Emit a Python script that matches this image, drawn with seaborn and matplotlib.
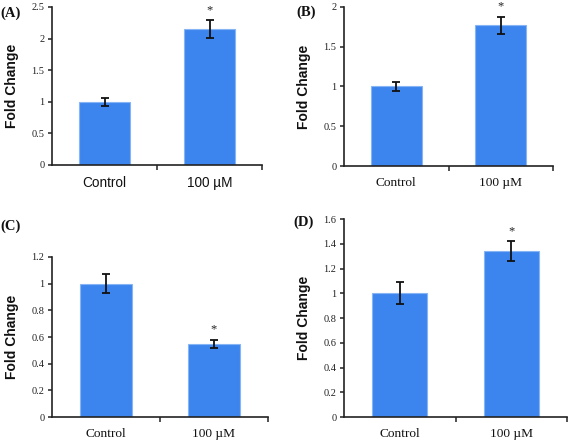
import matplotlib
matplotlib.use("Agg")
import matplotlib.pyplot as plt
import seaborn as sns
import pandas as pd
from matplotlib.ticker import FuncFormatter, FixedLocator

categories = ["Control", "100 \u00b5M"]
panel_labels = ["(A)", "(B)", "(C)", "(D)"]
values_a = [1.00, 2.15]
errors_a = [0.06, 0.14]
values_b = [1.00, 1.77]
errors_b = [0.06, 0.11]
values_c = [1.00, 0.55]
errors_c = [0.07, 0.03]
values_d = [1.00, 1.34]
errors_d = [0.09, 0.08]
yticks_a = [0, 0.5, 1, 1.5, 2, 2.5]
yticks_b = [0, 0.5, 1, 1.5, 2]
yticks_c = [0, 0.2, 0.4, 0.6, 0.8, 1, 1.2]
yticks_d = [0, 0.2, 0.4, 0.6, 0.8, 1, 1.2, 1.4, 1.6]
significant = [False, True]

sns.set_theme(style="ticks")
plt.rcParams["font.family"] = ["Liberation Serif", "DejaVu Serif"]

W, H = 568, 440
fig = plt.figure(figsize=(W / 100, H / 100), dpi=100, facecolor="white")

BAR = "#3d85ee"
EDGE = "#86b5f5"
SERIF = ["Liberation Serif", "DejaVu Serif"]
SANS = ["Liberation Sans", "DejaVu Sans"]

panels = [
    # (values, errors, yticks, box px (l, r, top, bottom), xtick family, label pos)
    (values_a, errors_a, yticks_a, (52, 262, 7, 165), SANS, (11, 13)),
    (values_b, errors_b, yticks_b, (344, 553, 7, 166), SERIF, (306, 12)),
    (values_c, errors_c, yticks_c, (52, 268, 257, 417), SERIF, (11, 226)),
    (values_d, errors_d, yticks_d, (344, 567, 219, 417), SERIF, (304, 222)),
]

for i, (vals, errs, yt, box, xfam, lpos) in enumerate(panels):
    l, r, t, b = box
    ax = fig.add_axes([l / W, 1 - b / H, (r - l) / W, (b - t) / H])
    df = pd.DataFrame({"cond": categories, "fc": vals})
    sns.barplot(data=df, x="cond", y="fc", ax=ax, color=BAR, saturation=1,
                width=0.49, edgecolor=EDGE, linewidth=0.8)
    ax.errorbar(x=list(range(len(categories))), y=vals, yerr=errs, fmt="none",
                ecolor="#111111", elinewidth=1.3, capsize=3.2, capthick=1.3, zorder=5)
    for k, (v, e, s) in enumerate(zip(vals, errs, significant)):
        if s:
            ax.annotate("*", xy=(k, v + e), xytext=(0, 3), textcoords="offset points",
                        ha="center", va="bottom", fontsize=9, family=SERIF, color="#222222")
    ax.set_xlim(-0.5, len(categories) - 0.5)
    ax.set_ylim(yt[0], yt[-1])
    ax.set_yticks(yt)
    ax.yaxis.set_major_formatter(FuncFormatter(lambda v, p: "%g" % v))
    for lab in ax.get_yticklabels():
        lab.set_fontfamily(SERIF)
        lab.set_fontsize(7.5)
        lab.set_color("#222222")
    ax.tick_params(axis="y", direction="out", length=3, width=1.1, pad=2.5, color="#222222")
    ax.xaxis.set_minor_locator(FixedLocator([0.5, 1.5]))
    ax.tick_params(axis="x", which="major", length=0, pad=8)
    ax.tick_params(axis="x", which="minor", direction="out", length=3.5, width=1.1, color="#222222")
    ax.set_xticks(range(len(categories)))
    ax.set_xticklabels(categories, fontfamily=xfam, fontsize=9.8 if xfam is SANS else 9.6,
                       color="#111111")
    ax.set_xlabel("")
    ax.set_ylabel("Fold Change", fontfamily=SANS, fontsize=10, fontweight="bold", color="#111111")
    ax.yaxis.set_label_coords(-33 / (r - l), 0.5)
    for sp in ["top", "right"]:
        ax.spines[sp].set_visible(False)
    for sp in ["left", "bottom"]:
        ax.spines[sp].set_color("#222222")
        ax.spines[sp].set_linewidth(1.2)
    ax.set_facecolor("white")
    fig.text(lpos[0] / W, 1 - lpos[1] / H, panel_labels[i], ha="center", va="center",
             fontfamily=SERIF, fontweight="bold", fontsize=10.5, color="#111111")

fig.savefig("out.png", dpi=100, facecolor="white")
